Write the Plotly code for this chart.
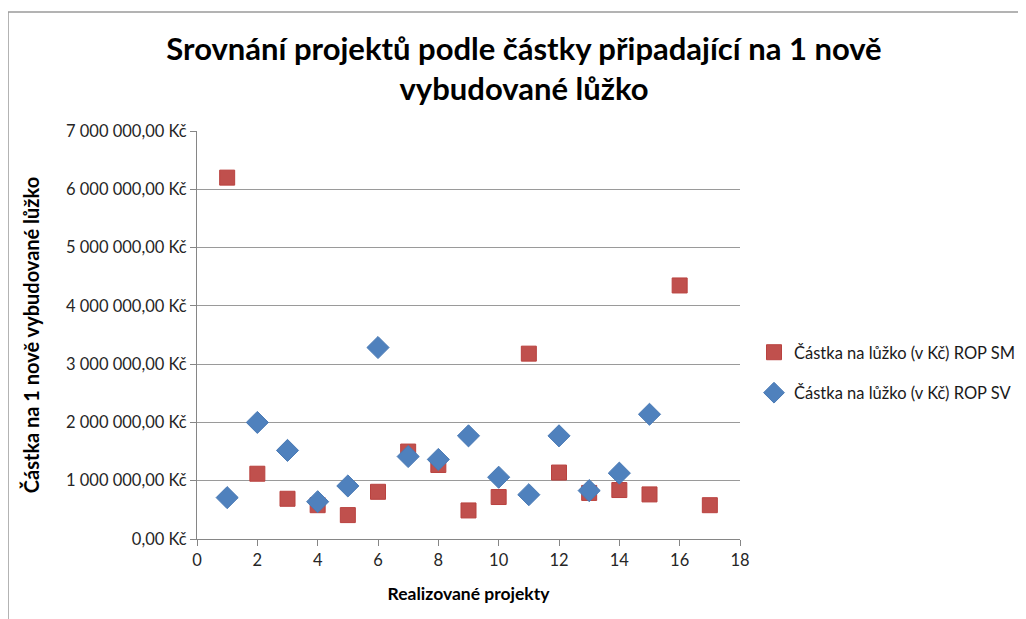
import plotly.graph_objects as go

projects_sm = list(range(1, 18))
values_sm = [6200000, 1120000, 690000, 580000, 410000, 810000, 1500000, 1270000, 490000,
             720000, 3180000, 1140000, 790000, 840000, 765000, 4350000, 580000]
projects_sv = list(range(1, 16))
values_sv = [710000, 2000000, 1520000, 640000, 910000, 3285000, 1415000, 1365000, 1770000,
             1060000, 760000, 1770000, 830000, 1130000, 2140000]

name_sm = "Částka na lůžko (v Kč) ROP SM"
name_sv = "Částka na lůžko (v Kč) ROP SV"
y_tickvals = [0, 1000000, 2000000, 3000000, 4000000, 5000000, 6000000, 7000000]
y_ticktext = ["0,00 Kč", "1 000 000,00 Kč", "2 000 000,00 Kč", "3 000 000,00 Kč",
              "4 000 000,00 Kč", "5 000 000,00 Kč", "6 000 000,00 Kč", "7 000 000,00 Kč"]
x_tickvals = [0, 2, 4, 6, 8, 10, 12, 14, 16, 18]

title = "Srovnání projektů podle částky připadající na 1 nově<br>vybudované lůžko"
x_title = "Realizované projekty"
y_title = "Částka na 1 nově vybudované lůžko"

OFF = 8  # page body margin
W, H = 1026 - OFF, 619 - OFF
# plot area in reference pixel coords
PL, PR, PT, PB = 197, 740, 131, 539
L, T = PL - OFF, PT - OFF
R, B = W - (PR - OFF), H - (PB - OFF)
pw, ph = W - L - R, H - T - B

def px(xp):
    return (xp - OFF - L) / pw

def py(yp):
    return (PB - yp) / ph

FONT = "Lato"
fig = go.Figure()
fig.add_trace(go.Scatter(x=projects_sm, y=values_sm, mode="markers", name=name_sm,
                         legendgroup="sm",
                         marker=dict(symbol="square", size=15, color="#C0504D",
                                     line=dict(width=1, color="#B9423F"))))
fig.add_trace(go.Scatter(x=projects_sv, y=values_sv, mode="markers", name=name_sv,
                         legendgroup="sv",
                         marker=dict(symbol="diamond", size=17, color="#4F81BD",
                                     line=dict(width=1, color="#4A7AB5"))))

fig.update_layout(
    width=W, height=H,
    margin=dict(l=L, r=R, t=T, b=B, autoexpand=False),
    paper_bgcolor="white", plot_bgcolor="white",
    font=dict(family=FONT, color="#1a1a1a"),
    title=dict(text=title, x=(524 - OFF) / W, xanchor="center", y=1 - (60 - OFF) / H, yanchor="top",
               font=dict(family=FONT, size=31, color="black", weight="bold")),
    xaxis=dict(range=[0, 18], tickvals=x_tickvals, showgrid=False, zeroline=False,
               showline=True, linecolor="#868686", linewidth=1,
               ticks="outside", ticklen=6, tickcolor="#868686",
               tickfont=dict(size=16.5, color="#262626"),
               title=dict(text=x_title, font=dict(size=17.5, color="black", weight="bold"), standoff=18)),
    yaxis=dict(range=[0, 7000000], tickvals=y_tickvals, ticktext=y_ticktext,
               showgrid=True, gridcolor="#9a9a9a", gridwidth=1, zeroline=False,
               showline=True, linecolor="#868686", linewidth=1,
               ticks="outside", ticklen=6, tickcolor="#868686",
               tickfont=dict(size=16.5, color="#262626"),
               title=dict(text=y_title, font=dict(size=20, color="black", weight="bold"), standoff=20)),
    legend=dict(x=px(754), y=py(335), xanchor="left", yanchor="top",
                traceorder="grouped", tracegroupgap=16,
                font=dict(size=16.5, color="#1a1a1a"), itemwidth=30),
    showlegend=True,
)

# outer frame (top and left edges visible in reference)
fig.add_shape(type="line", xref="paper", yref="paper", x0=px(8), x1=px(1040), y0=py(12), y1=py(12),
              line=dict(color="#9a9a9a", width=1.5))
fig.add_shape(type="line", xref="paper", yref="paper", x0=px(8), x1=px(8), y0=py(12), y1=py(640),
              line=dict(color="#9a9a9a", width=1.5))

fig.write_html("out.html")
